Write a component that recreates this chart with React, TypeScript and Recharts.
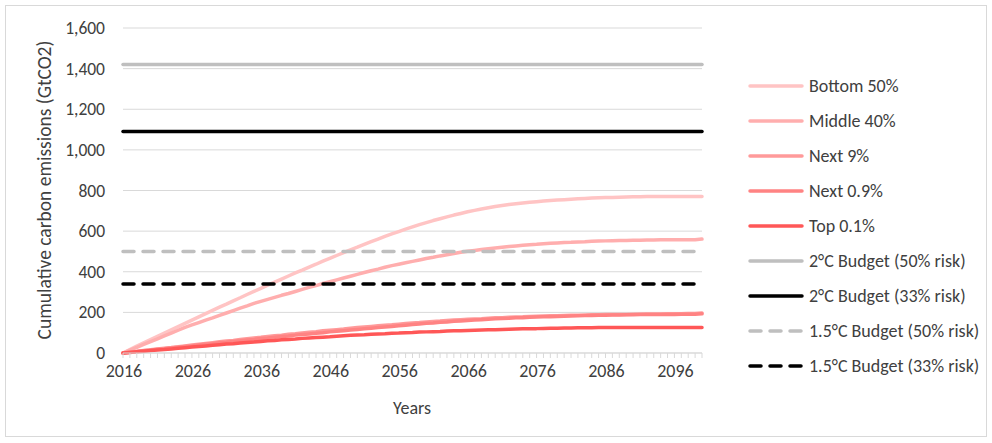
import React from 'react';
import { LineChart, Line, XAxis, YAxis, CartesianGrid, Legend, Label } from 'recharts';

const FONT = 'Carlito, Lato, "Open Sans", sans-serif';

const YEARS = [
  2016, 2017, 2018, 2019, 2020, 2021, 2022, 2023, 2024, 2025,
  2026, 2027, 2028, 2029, 2030, 2031, 2032, 2033, 2034, 2035,
  2036, 2037, 2038, 2039, 2040, 2041, 2042, 2043, 2044, 2045,
  2046, 2047, 2048, 2049, 2050, 2051, 2052, 2053, 2054, 2055,
  2056, 2057, 2058, 2059, 2060, 2061, 2062, 2063, 2064, 2065,
  2066, 2067, 2068, 2069, 2070, 2071, 2072, 2073, 2074, 2075,
  2076, 2077, 2078, 2079, 2080, 2081, 2082, 2083, 2084, 2085,
  2086, 2087, 2088, 2089, 2090, 2091, 2092, 2093, 2094, 2095,
  2096, 2097, 2098, 2099, 2100,
];

// cumulative emissions by income group (GtCO2)
const BOTTOM_50 = [
  0, 17, 34, 50, 66, 82, 98, 114, 130, 146,
  162, 178, 194, 210, 226, 241, 257, 272, 288, 303,
  318, 334, 349, 364, 379, 394, 408, 423, 437, 452,
  466, 480, 494, 508, 521, 535, 548, 561, 574, 586,
  598, 610, 621, 632, 642, 652, 661, 670, 679, 687,
  695, 702, 709, 715, 721, 726, 731, 735, 739, 742,
  745, 748, 751, 753, 755, 757, 759, 761, 763, 764,
  765, 766, 767, 768, 769, 769, 770, 770, 770, 770,
  770, 770, 770, 770, 771,
];

const MIDDLE_40 = [
  0, 14, 28, 42, 56, 70, 84, 98, 112, 126,
  138, 150, 162, 173, 185, 197, 209, 221, 232, 244,
  254, 264, 274, 284, 293, 303, 313, 323, 332, 342,
  351, 360, 369, 378, 387, 396, 405, 413, 422, 430,
  437, 444, 451, 458, 465, 471, 478, 484, 490, 496,
  501, 505, 509, 513, 517, 521, 524, 527, 530, 533,
  535, 538, 540, 542, 544, 545, 547, 548, 550, 551,
  552, 553, 554, 554, 555, 555, 556, 556, 557, 557,
  557, 558, 558, 558, 561,
];

const NEXT_9 = [
  0, 4, 8, 12, 16, 20, 24, 27, 31, 35,
  39, 43, 47, 51, 55, 59, 62, 66, 70, 74,
  77, 81, 85, 88, 92, 95, 99, 102, 105, 109,
  112, 115, 118, 122, 125, 128, 131, 134, 137, 139,
  142, 145, 148, 150, 153, 155, 157, 160, 162, 164,
  166, 168, 169, 171, 173, 174, 176, 177, 178, 180,
  181, 182, 183, 184, 185, 186, 186, 187, 188, 188,
  189, 189, 190, 190, 191, 191, 192, 192, 192, 193,
  193, 193, 194, 194, 197,
];

const NEXT_09 = [
  0, 4, 7, 11, 14, 18, 21, 25, 28, 32,
  35, 39, 43, 46, 50, 53, 57, 60, 64, 67,
  71, 74, 78, 81, 84, 88, 91, 94, 97, 100,
  104, 107, 110, 113, 116, 119, 122, 125, 128, 131,
  134, 137, 140, 143, 146, 148, 151, 153, 156, 158,
  160, 162, 164, 166, 168, 170, 171, 173, 174, 176,
  177, 178, 179, 180, 181, 182, 183, 184, 185, 186,
  186, 187, 187, 188, 188, 189, 189, 189, 190, 190,
  190, 191, 191, 191, 193,
];

const TOP_01 = [
  0, 3, 6, 9, 12, 15, 17, 20, 23, 26,
  29, 32, 35, 38, 41, 44, 46, 49, 52, 54,
  57, 60, 62, 65, 67, 69, 72, 74, 76, 78,
  80, 83, 85, 87, 89, 90, 92, 94, 95, 97,
  98, 100, 101, 103, 104, 105, 106, 108, 109, 110,
  111, 112, 113, 114, 115, 116, 117, 118, 119, 120,
  120, 121, 122, 122, 123, 123, 124, 124, 124, 125,
  125, 125, 125, 125, 125, 125, 125, 125, 125, 125,
  125, 125, 125, 125, 125,
];

// carbon budgets (GtCO2)
const BUDGET_2C_50 = 1420;
const BUDGET_2C_33 = 1090;
const BUDGET_15C_50 = 500;
const BUDGET_15C_33 = 340;

const Y_TICKS = [0, 200, 400, 600, 800, 1000, 1200, 1400, 1600];

const SERIES = [
  { key: 'bottom50', name: 'Bottom 50%', color: '#FFC4C4', dash: undefined },
  { key: 'middle40', name: 'Middle 40%', color: '#FFAEAE', dash: undefined },
  { key: 'next9', name: 'Next 9%', color: '#FF9A9A', dash: undefined },
  { key: 'next09', name: 'Next 0.9%', color: '#FF8383', dash: undefined },
  { key: 'top01', name: 'Top 0.1%', color: '#FF5757', dash: undefined },
  { key: 'b2c50', name: '2°C Budget (50% risk)', color: '#BFBFBF', dash: undefined },
  { key: 'b2c33', name: '2°C Budget (33% risk)', color: '#000000', dash: undefined },
  { key: 'b15c50', name: '1.5°C Budget (50% risk)', color: '#BFBFBF', dash: '11 9' },
  { key: 'b15c33', name: '1.5°C Budget (33% risk)', color: '#000000', dash: '11 9' },
];

const data = YEARS.map((year, i) => ({
  year,
  bottom50: BOTTOM_50[i],
  middle40: MIDDLE_40[i],
  next9: NEXT_9[i],
  next09: NEXT_09[i],
  top01: TOP_01[i],
  b2c50: BUDGET_2C_50,
  b2c33: BUDGET_2C_33,
  b15c50: BUDGET_15C_50,
  b15c33: BUDGET_15C_33,
}));

const XTick = ({ x, y, payload, index }: any) => {
  const i = payload?.index ?? index;
  return (
    <g>
      <line x1={x} y1={y} x2={x} y2={y + 5} stroke="#D9D9D9" strokeWidth={1} />
      {i % 10 === 0 && (
        <text x={x + 1} y={y + 24} textAnchor="middle" fontFamily={FONT} fontSize={18} fill="#404040">
          {payload.value}
        </text>
      )}
    </g>
  );
};

const YTick = ({ x, y, payload }: any) => (
  <text x={x} y={y + 6} textAnchor="end" fontFamily={FONT} fontSize={17.5} fill="#404040">
    {Number(payload.value).toLocaleString('en-US')}
  </text>
);

const LegendBox = () => (
  <div style={{ fontFamily: FONT, fontSize: 18, color: '#404040' }}>
    {SERIES.map((s) => (
      <div key={s.key} style={{ height: 35.1, display: 'flex', alignItems: 'center', whiteSpace: 'nowrap' }}>
        <svg width={58} height={10}>
          <line
            x1={4}
            y1={5}
            x2={56}
            y2={5}
            stroke={s.color}
            strokeWidth={3.5}
            strokeDasharray={s.dash}
            strokeLinecap="round"
          />
        </svg>
        <span style={{ marginLeft: 5 }}>{s.name}</span>
      </div>
    ))}
  </div>
);

const App: React.FC = () => (
  <div style={{ position: 'absolute', left: 0, top: 0, width: 992, height: 443, background: '#fff' }}>
    <div
      style={{
        position: 'absolute',
        left: 5,
        top: 5,
        width: 982,
        height: 432,
        border: '1px solid #D9D9D9',
        boxSizing: 'border-box',
      }}
    />
    <LineChart width={992} height={443} data={data} margin={{ top: 28, right: 290, bottom: 30, left: 0 }}>
      <CartesianGrid horizontal vertical={false} stroke="#D9D9D9" strokeWidth={1} />
      <XAxis
        dataKey="year"
        interval={0}
        height={60}
        tickLine={false}
        tickSize={0}
        tickMargin={0}
        axisLine={{ stroke: '#D9D9D9', strokeWidth: 1 }}
        tick={<XTick />}
      >
        <Label
          content={() => (
            <text x={412} y={414} textAnchor="middle" fontFamily={FONT} fontSize={18} fill="#404040">
              Years
            </text>
          )}
        />
      </XAxis>
      <YAxis
        width={123}
        domain={[0, 1600]}
        ticks={Y_TICKS}
        interval={0}
        axisLine={false}
        tickLine={false}
        tickSize={0}
        tickMargin={18}
        tick={<YTick />}
      >
        <Label
          content={() => (
            <text
              x={44}
              y={190}
              transform="rotate(-90 44 190)"
              textAnchor="middle"
              dominantBaseline="central"
              fontFamily={FONT}
              fontSize={19.5}
              fill="#404040"
            >
              Cumulative carbon emissions (GtCO2)
            </text>
          )}
        />
      </YAxis>
      <Legend
        layout="vertical"
        align="center"
        verticalAlign="middle"
        wrapperStyle={{ left: 746, top: 68, width: 245 }}
        content={<LegendBox />}
      />
      {SERIES.map((s) => (
        <Line
          key={s.key}
          type="linear"
          dataKey={s.key}
          name={s.name}
          stroke={s.color}
          strokeWidth={3.5}
          strokeDasharray={s.dash}
          strokeLinecap="round"
          strokeLinejoin="round"
          dot={false}
          activeDot={false}
          isAnimationActive={false}
        />
      ))}
    </LineChart>
  </div>
);

export default App;
